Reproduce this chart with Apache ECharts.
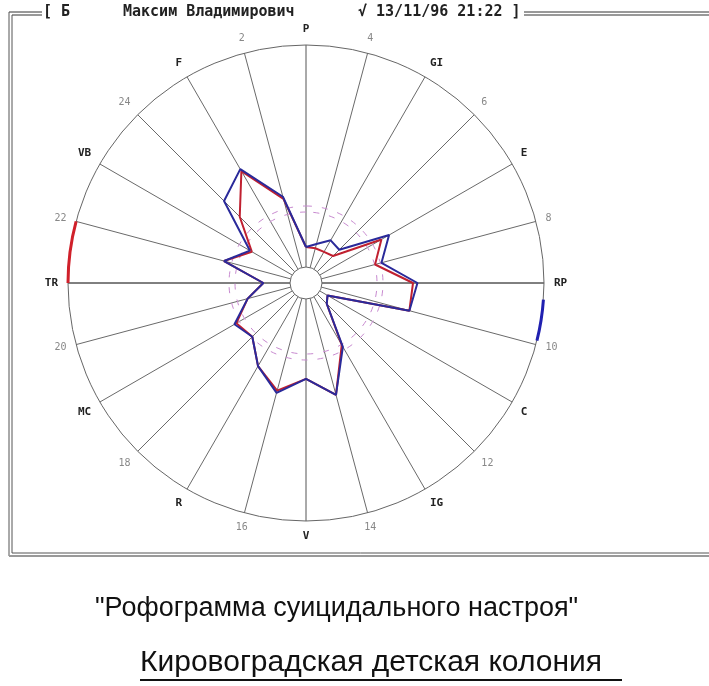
<!DOCTYPE html>
<html>
<head>
<meta charset="utf-8">
<script src="https://cdn.jsdelivr.net/npm/echarts@6/dist/echarts.min.js"></script>
<style>
html, body { margin: 0; padding: 0; background: #fff; }
#chart { width: 709px; height: 686px; }
</style>
</head>
<body>
<div id="chart"></div>
<script>
// 24 луча через 15°, по часовой стрелке от верха
var spokes = ['P', '4', 'GI', '6', 'E', '8', 'RP', '10', 'C', '12', 'IG', '14',
              'V', '16', 'R', '18', 'MC', '20', 'TR', '22', 'VB', '24', 'F', '2'];
var blueVals = [9, 11, 15, 14, 36, 28, 43, 41, 4, 6, 26, 45, 36, 44, 36, 27, 30, 20, 12, 31, 22, 45, 52, 33];
var redVals  = [9, 9, 9, 10, 32, 25, 41, 41, 4, 6, 25, 45, 36, 43, 36, 27, 29, 20, 12, 31, 21, 35, 51, 32];
// дуги на внешнем круге (градусы)
var redArc = [270, 285];
var blueArc = [94, 104];

var headerName = 'Максим Владимирович';
var headerDate = '√ 13/11/96 21:22 ]';
var title1 = '"Рофограмма суицидального настроя"';
var title2 = 'Кировоградская детская колония';

var step = 360 / spokes.length;

function toPolar(vals) {
	var d = vals.map(function(v, i) { return [v, i * step]; });
	d.push([vals[0], 360]); // замыкаем контур
	return d;
}

// дуга = прозрачная подложка + цветной кусок в стеке
function arcSeries(arc, color, polarIndex) {
	return [{
		type: 'bar', coordinateSystem: 'polar', polarIndex: polarIndex, stack: 'a' + polarIndex,
		barWidth: '100%', data: [arc[0]], itemStyle: { color: 'rgba(0,0,0,0)' }, silent: true
	}, {
		type: 'bar', coordinateSystem: 'polar', polarIndex: polarIndex, stack: 'a' + polarIndex,
		barWidth: '100%', data: [arc[1] - arc[0]], itemStyle: { color: color }, silent: true
	}];
}

var spokeColors = ['#555', '#6a6a6a', '#6a6a6a', '#6a6a6a', '#6a6a6a', '#6a6a6a',
                   '#000', '#6a6a6a', '#6a6a6a', '#6a6a6a', '#6a6a6a', '#6a6a6a'];

var myChart = echarts.init(document.getElementById('chart'));

var hiddenAngle = function(i) {
	return { polarIndex: i, type: 'value', min: 0, max: 360, startAngle: 90, clockwise: true, show: false };
};
var hiddenRadius = function(i) {
	return { polarIndex: i, type: 'category', data: ['x'], show: false };
};

var option = {
	backgroundColor: '#fff',
	animation: false,
	polar: [
		{ center: [306, 283], radius: [16, 238] },
		{ center: [306, 283], radius: [71, 77] },
		{ center: [306, 283], radius: [236.5, 239.5] },
		{ center: [306, 283], radius: [236.5, 239.5] }
	],
	angleAxis: [{
		polarIndex: 0,
		type: 'value',
		min: 0,
		max: 360,
		interval: step,
		startAngle: 90,
		clockwise: true,
		axisLine: { lineStyle: { color: '#666', width: 1 } },
		axisTick: { show: false },
		splitLine: { show: true, lineStyle: { color: spokeColors, width: 1 } },
		axisLabel: {
			margin: 10,
			formatter: function(v) {
				var s = spokes[Math.round(v / step)];
				if (s === undefined) return '';
				return /^\d+$/.test(s) ? '{n|' + s + '}' : '{c|' + s + '}';
			},
			rich: {
				n: { fontFamily: 'DejaVu Sans Mono', fontSize: 10, color: '#888' },
				c: { fontFamily: 'DejaVu Sans Mono', fontSize: 11, fontWeight: 'bold', color: '#222' }
			}
		}
	}, hiddenAngle(1), hiddenAngle(2), hiddenAngle(3)],
	radiusAxis: [{
		polarIndex: 0,
		type: 'value',
		min: 0,
		max: 100,
		show: false
	}, hiddenRadius(1), hiddenRadius(2), hiddenRadius(3)],
	graphic: [
		// рамка
		{ type: 'line', shape: { x1: 9, y1: 12, x2: 42, y2: 12 }, style: { stroke: '#333', lineWidth: 1 } },
		{ type: 'line', shape: { x1: 12, y1: 15, x2: 42, y2: 15 }, style: { stroke: '#333', lineWidth: 1 } },
		{ type: 'line', shape: { x1: 9, y1: 12, x2: 9, y2: 556 }, style: { stroke: '#555', lineWidth: 1 } },
		{ type: 'line', shape: { x1: 12, y1: 15, x2: 12, y2: 553 }, style: { stroke: '#555', lineWidth: 1 } },
		{ type: 'line', shape: { x1: 12, y1: 553, x2: 709, y2: 553 }, style: { stroke: '#555', lineWidth: 1 } },
		{ type: 'line', shape: { x1: 9, y1: 556, x2: 709, y2: 556 }, style: { stroke: '#999', lineWidth: 2 } },
		{ type: 'line', shape: { x1: 524, y1: 12, x2: 709, y2: 12 }, style: { stroke: '#333', lineWidth: 1 } },
		{ type: 'line', shape: { x1: 524, y1: 15, x2: 709, y2: 15 }, style: { stroke: '#333', lineWidth: 1 } },
		// заголовок
		{ type: 'text', left: 43, top: 5, style: { text: '[ Б', font: 'bold 15px "DejaVu Sans Mono"', fill: '#222' } },
		{ type: 'text', left: 123, top: 5, style: { text: headerName, font: 'bold 15px "DejaVu Sans Mono"', fill: '#222' } },
		{ type: 'text', left: 358, top: 5, style: { text: headerDate, font: 'bold 15px "DejaVu Sans Mono"', fill: '#222' } },
		// подписи
		{ type: 'text', left: 95, top: 595, style: { text: title1, font: '27px "Liberation Sans"', fill: '#111' } },
		{ type: 'text', left: 140, top: 648, style: { text: title2, font: '30px "Liberation Sans"', fill: '#111' } },
		{ type: 'line', shape: { x1: 140, y1: 680, x2: 622, y2: 680 }, style: { stroke: '#111', lineWidth: 2 } }
	],
	series: [{
		name: 'норма',
		type: 'bar',
		coordinateSystem: 'polar',
		polarIndex: 1,
		barWidth: '100%',
		data: [360],
		silent: true,
		itemStyle: { color: 'rgba(0,0,0,0)', borderColor: '#c88ad0', borderWidth: 1, borderType: [6, 10] }
	}].concat(arcSeries(redArc, '#d0202a', 2), arcSeries(blueArc, '#2020b0', 3), [{
		name: 'red',
		type: 'line',
		coordinateSystem: 'polar',
		polarIndex: 0,
		symbol: 'none',
		data: toPolar(redVals),
		lineStyle: { color: '#c02030', width: 2 }
	}, {
		name: 'blue',
		type: 'line',
		coordinateSystem: 'polar',
		polarIndex: 0,
		symbol: 'none',
		data: toPolar(blueVals),
		lineStyle: { color: '#2a2a9a', width: 2 }
	}])
};

myChart.setOption(option);
</script>
</body>
</html>
